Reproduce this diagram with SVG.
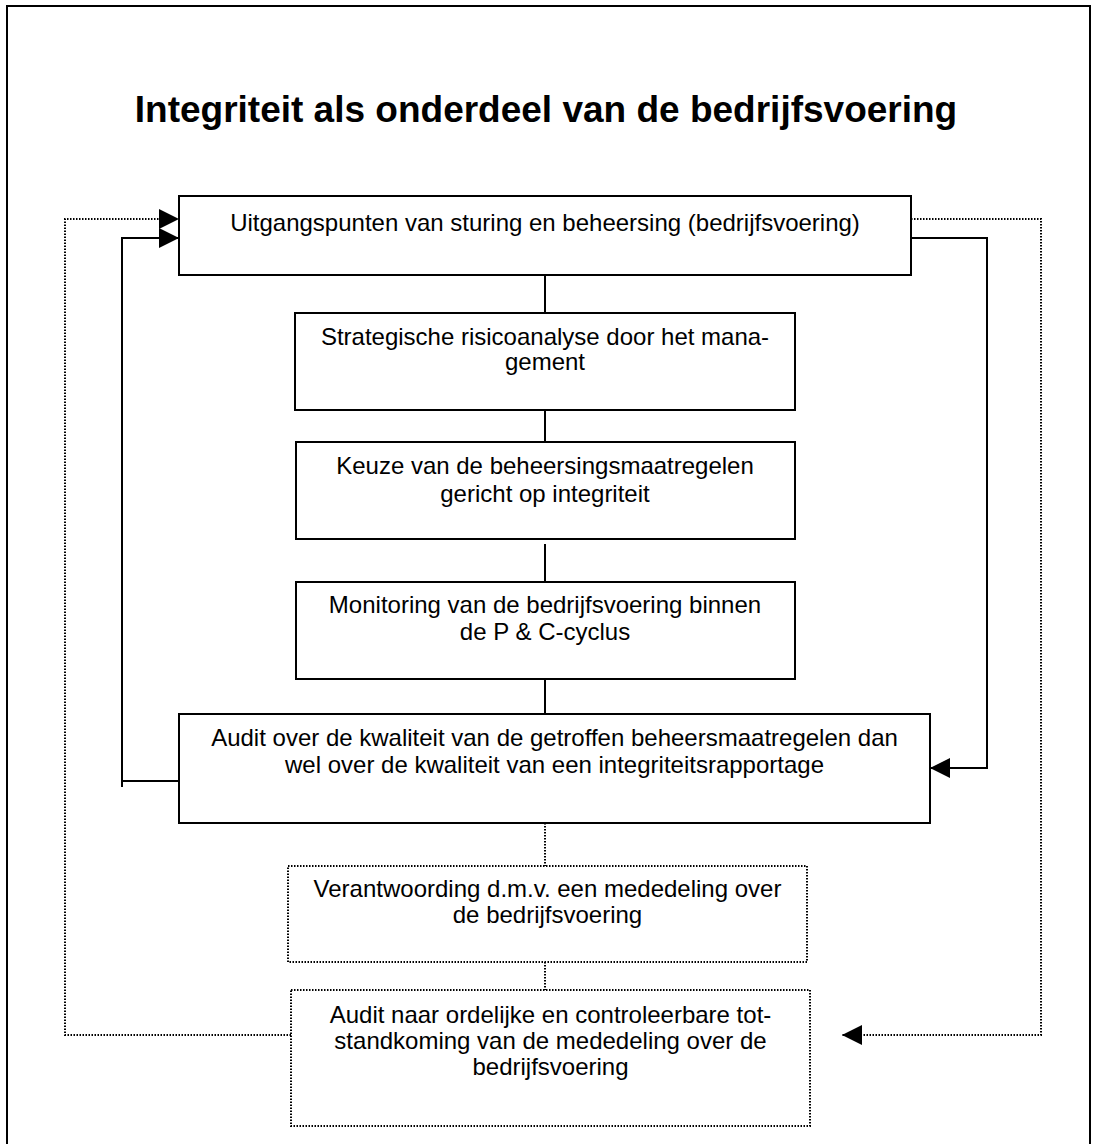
<svg xmlns="http://www.w3.org/2000/svg" width="1093" height="1144" viewBox="0 0 1093 1144">
<style>
text{font-family:"Liberation Sans",Arial,sans-serif;fill:#000;text-anchor:middle}
.t{font-size:24px}
.title{font-size:37px;font-weight:bold}
.box{fill:#fff;stroke:#000;stroke-width:2}
.dbox{fill:#fff;stroke:#000;stroke-width:2;stroke-dasharray:1.5 1.5}
.ln{fill:none;stroke:#000;stroke-width:2}
.dl{fill:none;stroke:#000;stroke-width:2;stroke-dasharray:1.5 1.5}
</style>
<defs>
<marker id="ah" viewBox="0 0 20 20" refX="20" refY="10" markerWidth="20" markerHeight="20" markerUnits="userSpaceOnUse" orient="auto">
<path d="M0,0 L20,10 L0,20 Z" fill="#000"/>
</marker>
</defs>
<rect width="1093" height="1144" fill="#fff"/>
<path d="M7,1150 V6 H1090 V1150" fill="none" stroke="#000" stroke-width="2"/>
<text class="title" x="546" y="122">Integriteit als onderdeel van de bedrijfsvoering</text>
<g id="connectors">
<path class="ln" d="M545,275 V313"/>
<path class="ln" d="M545,410 V448"/>
<path class="ln" d="M545,544 V583"/>
<path class="ln" d="M545,680 V714"/>
<path class="dl" d="M545,823 V866"/>
<path class="dl" d="M545,962 V990"/>
<path class="ln" d="M122,787 V238 H179" marker-end="url(#ah)"/>
<path class="ln" d="M122,781 H179"/>
<path class="ln" d="M911,238 H987 V768 H930" marker-end="url(#ah)"/>
<path class="dl" d="M291,1035 H65 V219 H179" marker-end="url(#ah)"/>
<path class="dl" d="M911,219 H1041 V1035 H842" marker-end="url(#ah)"/>
</g>
<g id="n1">
<rect class="box" x="179" y="196" width="732" height="79"/>
<text class="t" x="545" y="231">Uitgangspunten van sturing en beheersing (bedrijfsvoering)</text>
</g>
<g id="n2">
<rect class="box" x="295" y="313" width="500" height="97"/>
<text class="t" x="545" y="345">Strategische risicoanalyse door het mana-</text>
<text class="t" x="545" y="370">gement</text>
</g>
<g id="n3">
<rect class="box" x="296" y="442" width="499" height="97"/>
<text class="t" x="545" y="474">Keuze van de beheersingsmaatregelen</text>
<text class="t" x="545" y="502">gericht op integriteit</text>
</g>
<g id="n4">
<rect class="box" x="296" y="582" width="499" height="97"/>
<text class="t" x="545" y="613">Monitoring van de bedrijfsvoering binnen</text>
<text class="t" x="545" y="640">de P &amp; C-cyclus</text>
</g>
<g id="n5">
<rect class="box" x="179" y="714" width="751" height="109"/>
<text class="t" x="554.5" y="746">Audit over de kwaliteit van de getroffen beheersmaatregelen dan</text>
<text class="t" x="554.5" y="773">wel over de kwaliteit van een integriteitsrapportage</text>
</g>
<g id="n6">
<rect class="dbox" x="288" y="866" width="519" height="96"/>
<text class="t" x="547.5" y="897">Verantwoording d.m.v. een mededeling over</text>
<text class="t" x="547.5" y="923">de bedrijfsvoering</text>
</g>
<g id="n7">
<rect class="dbox" x="291" y="990" width="519" height="136"/>
<text class="t" x="550.5" y="1023">Audit naar ordelijke en controleerbare tot-</text>
<text class="t" x="550.5" y="1049">standkoming van de mededeling over de</text>
<text class="t" x="550.5" y="1075">bedrijfsvoering</text>
</g>
</svg>
